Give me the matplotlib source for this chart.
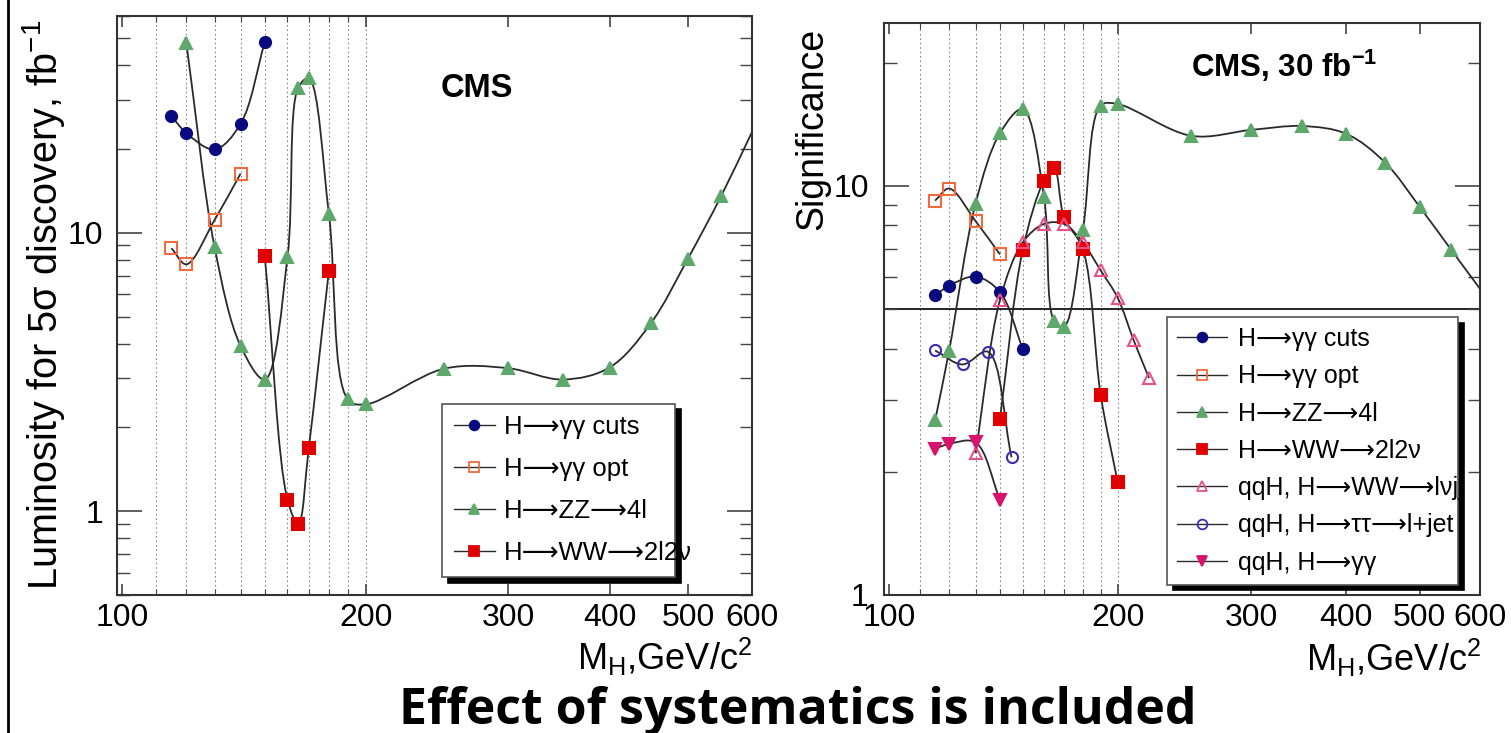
import numpy as np
import matplotlib
matplotlib.use("Agg")
import matplotlib.pyplot as plt
from matplotlib.path import Path
from matplotlib.patches import PathPatch
from matplotlib.lines import Line2D
from matplotlib.ticker import FixedLocator, NullFormatter, FixedFormatter

plt.rcParams["font.family"] = ["Liberation Sans", "DejaVu Sans"]
plt.rcParams["mathtext.fontset"] = "custom"
plt.rcParams["mathtext.rm"] = "Liberation Sans"
plt.rcParams["mathtext.it"] = "Liberation Sans:italic"
plt.rcParams["mathtext.bf"] = "Liberation Sans:bold"

# ---- left panel: luminosity for 5 sigma discovery (fb^-1) ----
gg_cuts_m = [115, 120, 130, 140, 150]
gg_cuts_lumi = [26.2, 22.8, 19.9, 24.6, 48.4]

gg_opt_m = [115, 120, 130, 140]
gg_opt_lumi = [8.8, 7.7, 11.1, 16.3]

zz_m = [120, 130, 140, 150, 160, 165, 170, 180, 190, 200, 250, 300, 350, 400, 450, 500, 550, 600]
zz_lumi = [47.8, 8.9, 3.92, 2.97, 8.17, 33.2, 35.8, 11.7, 2.52, 2.42, 3.25, 3.26, 2.97, 3.28, 4.73, 8.07, 13.6, 23.0]

ww_m = [150, 160, 165, 170, 180]
ww_lumi = [8.22, 1.10, 0.90, 1.69, 7.30]

# ---- right panel: significance at 30 fb^-1 ----
gg_cuts_sig = [5.4, 5.7, 6.0, 5.5, 4.0]
gg_opt_sig = [9.2, 9.85, 8.2, 6.8]

zz_m_r = [115, 120, 130, 140, 150, 160, 165, 170, 180, 190, 200, 250, 300, 350, 400, 450, 500, 550, 600]
zz_sig = [2.67, 3.95, 9.04, 13.45, 15.4, 9.38, 4.67, 4.53, 7.8, 15.7, 15.85, 13.25, 13.7, 14.0, 13.4, 11.4, 8.87, 6.97, 5.6]

ww_m_r = [140, 150, 160, 165, 170, 180, 190, 200]
ww_sig = [2.69, 6.97, 10.3, 11.05, 8.38, 6.99, 3.08, 1.89]

qqh_ww_m = [130, 140, 150, 160, 170, 180, 190, 200, 210, 220]
qqh_ww_sig = [2.22, 5.26, 7.27, 8.07, 8.07, 7.27, 6.21, 5.33, 4.19, 3.39]

qqh_tt_m = [115, 125, 135, 145]
qqh_tt_sig = [3.96, 3.66, 3.93, 2.17]

qqh_gg_m = [115, 120, 130, 140]
qqh_gg_sig = [2.28, 2.34, 2.36, 1.71]

grid_m = [110, 120, 130, 140, 150, 160, 170, 180, 190, 200]
x_major = [100, 200, 300, 400, 500, 600]

NAVY = "#0a0a80"
ORANGE = "#f26a3d"
GREEN = "#5ea86c"
RED = "#e00000"
PINK = "#e8508a"
PURPLE = "#3c2cb4"
MAGENTA = "#d6146e"
LINE = "#2a2a2a"
ARROW = "\u27f6"

fig = plt.figure(figsize=(15.11, 7.33), dpi=100)
ax1 = fig.add_axes([117 / 1511, 138 / 733, 635 / 1511, 579 / 733])
ax2 = fig.add_axes([884 / 1511, 138 / 733, 596 / 1511, 572 / 733])


def setup(ax, ylim, ymajor, yminor, ypad=10):
    ax.set_xscale("log")
    ax.set_yscale("log")
    ax.set_xlim(98.5, 600)
    ax.set_ylim(*ylim)
    ax.xaxis.set_major_locator(FixedLocator(x_major))
    ax.xaxis.set_major_formatter(FixedFormatter([str(v) for v in x_major]))
    ax.xaxis.set_minor_locator(FixedLocator(grid_m[:-1]))
    ax.xaxis.set_minor_formatter(NullFormatter())
    ax.yaxis.set_major_locator(FixedLocator(ymajor))
    ax.yaxis.set_major_formatter(FixedFormatter([str(v) for v in ymajor]))
    ax.yaxis.set_minor_locator(FixedLocator(yminor))
    ax.yaxis.set_minor_formatter(NullFormatter())
    ax.tick_params(which="both", direction="in", top=True, right=True,
                   colors="#444444", labelcolor="black", labelsize=23)
    ax.tick_params(axis="y", which="major", length=18, width=1.2, pad=ypad)
    ax.tick_params(axis="y", which="minor", length=9, width=1.0)
    ax.tick_params(axis="x", which="major", length=8, width=1.2, pad=6)
    ax.tick_params(axis="x", which="minor", length=4, width=0.8)
    for sp in ax.spines.values():
        sp.set_linewidth(1.5)
        sp.set_color("#333333")
    for m in grid_m:
        ax.axvline(m, color="#888888", lw=0.8, ls=(0, (1.5, 2.5)), zorder=0)


def smooth_line(ax, xs, ys):
    pts = ax.transData.transform(np.column_stack([xs, ys]))
    ext = np.vstack([2 * pts[0] - pts[1], pts, 2 * pts[-1] - pts[-2]])
    verts = [pts[0]]
    codes = [Path.MOVETO]
    for i in range(len(pts) - 1):
        p0, p1, p2, p3 = ext[i], ext[i + 1], ext[i + 2], ext[i + 3]
        d0 = max(np.hypot(*(p1 - p0)) ** 0.5, 1e-6)
        d1 = max(np.hypot(*(p2 - p1)) ** 0.5, 1e-6)
        d2 = max(np.hypot(*(p3 - p2)) ** 0.5, 1e-6)
        m1 = ((p1 - p0) / d0 - (p2 - p0) / (d0 + d1) + (p2 - p1) / d1) * d1
        m2 = ((p2 - p1) / d1 - (p3 - p1) / (d1 + d2) + (p3 - p2) / d2) * d1
        verts += [p1 + m1 / 3, p2 - m2 / 3, p2]
        codes += [Path.CURVE4] * 3
    path = Path(ax.transData.inverted().transform(np.array(verts)), codes)
    ax.add_patch(PathPatch(path, fill=False, edgecolor=LINE, lw=1.3, zorder=2))


def series(ax, xs, ys, marker, color, filled=True, ms=8):
    smooth_line(ax, xs, ys)
    xs = np.asarray(xs, float)
    ys = np.asarray(ys, float)
    keep = xs < 600
    ax.plot(xs[keep], ys[keep], ls="none", marker=marker, ms=ms,
            mfc=color if filled else "none", mec=color, mew=1.5, zorder=3)


def handle(marker, color, filled=True, ms=7):
    return Line2D([], [], color=LINE, lw=1.0, marker=marker, ms=ms,
                  mfc=color if filled else "none", mec=color, mew=1.3)


def shadow():
    return {"ox": 4, "oy": -4, "facecolor": "black", "edgecolor": "black", "alpha": 1}


setup(ax1, (0.5, 60), [1, 10],
      [0.5, 0.6, 0.7, 0.8, 0.9, 2, 3, 4, 5, 6, 7, 8, 9, 20, 30, 40, 50, 60])
setup(ax2, (1, 25), [1, 10], [2, 3, 4, 5, 6, 7, 8, 9, 20], ypad=11)

series(ax1, gg_cuts_m, gg_cuts_lumi, "o", NAVY)
series(ax1, gg_opt_m, gg_opt_lumi, "s", ORANGE, filled=False)
series(ax1, zz_m, zz_lumi, "^", GREEN)
series(ax1, ww_m, ww_lumi, "s", RED)

ax2.axhline(5, color="black", lw=1.2, zorder=1)
series(ax2, gg_cuts_m, gg_cuts_sig, "o", NAVY)
series(ax2, gg_opt_m, gg_opt_sig, "s", ORANGE, filled=False)
series(ax2, zz_m_r, zz_sig, "^", GREEN)
series(ax2, ww_m_r, ww_sig, "s", RED)
series(ax2, qqh_ww_m, qqh_ww_sig, "^", PINK, filled=False)
series(ax2, qqh_tt_m, qqh_tt_sig, "o", PURPLE, filled=False)
series(ax2, qqh_gg_m, qqh_gg_sig, "v", MAGENTA)

labels_l = [f"H{ARROW}\u03b3\u03b3 cuts", f"H{ARROW}\u03b3\u03b3 opt",
            f"H{ARROW}ZZ{ARROW}4l", f"H{ARROW}WW{ARROW}2l2\u03bd"]
handles_l = [handle("o", NAVY), handle("s", ORANGE, False),
             handle("^", GREEN), handle("s", RED)]
leg1 = ax1.legend(handles_l, labels_l, loc="upper left",
                  bbox_to_anchor=(0.512, 0.33, 0.367, 0.0), mode="expand",
                  borderaxespad=0, fontsize=18.5, labelspacing=0.7,
                  handlelength=1.6, handletextpad=0.35, borderpad=0.45,
                  fancybox=False, edgecolor="#555555", framealpha=1,
                  shadow=shadow())
leg1.get_frame().set_linewidth(1.2)

labels_r = labels_l + [f"qqH, H{ARROW}WW{ARROW}l\u03bdjj",
                       f"qqH, H{ARROW}\u03c4\u03c4{ARROW}l+jet",
                       f"qqH, H{ARROW}\u03b3\u03b3"]
handles_r = handles_l + [handle("^", PINK, False), handle("o", PURPLE, False),
                         handle("v", MAGENTA)]
leg2 = ax2.legend(handles_r, labels_r, loc="upper left",
                  bbox_to_anchor=(0.475, 0.486, 0.488, 0.0), mode="expand",
                  borderaxespad=0, fontsize=18, labelspacing=0.53,
                  handlelength=2.0, handletextpad=0.45, borderpad=0.4,
                  fancybox=False, edgecolor="#555555", framealpha=1,
                  shadow=shadow())
leg2.get_frame().set_linewidth(1.2)

ax1.text(0.51, 0.875, "CMS", transform=ax1.transAxes, fontsize=23.5,
         fontweight="bold", ha="left", va="center")
ax2.text(0.515, 0.925, "CMS, 30 fb$^{\\mathbf{-1}}$", transform=ax2.transAxes,
         fontsize=22.5, fontweight="bold", ha="left", va="center")

fig.text(44 / 1511, 1 - 305 / 733, "Luminosity for 5\u03c3 discovery, fb$^{-1}$",
         rotation=90, fontsize=28.5, ha="center", va="center")
fig.text(812 / 1511, 1 - 28 / 733, "Significance", rotation=90, fontsize=27,
         ha="center", va="top")
fig.text(752 / 1511, 1 - 636 / 733, "M$_{\\rm H}$,GeV/c$^2$", fontsize=26,
         ha="right", va="top")
fig.text(1481 / 1511, 1 - 637 / 733, "M$_{\\rm H}$,GeV/c$^2$", fontsize=26,
         ha="right", va="top")

fig.text(798 / 1511, 1 - 711 / 733, "Effect of systematics is included",
         fontsize=36, fontweight="bold", family=["Open Sans", "DejaVu Sans"],
         ha="center", va="center")

fig.add_artist(Line2D([8 / 1511, 8 / 1511], [0, 1], color="black", lw=2))

fig.savefig("out.png", dpi=100)
